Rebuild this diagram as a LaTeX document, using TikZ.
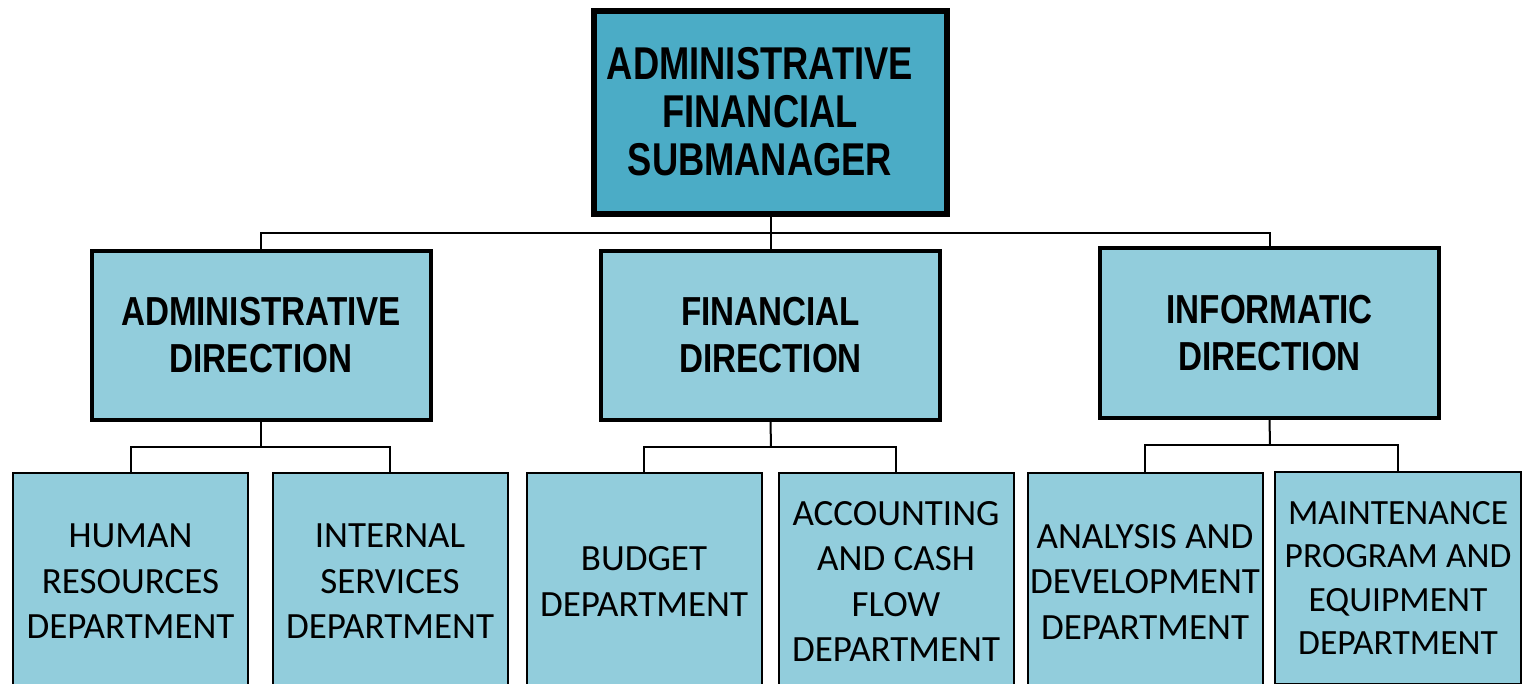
\documentclass[tikz,border=0pt]{standalone}
\usepackage{fontspec}
\newfontfamily\hdfont{Liberation Sans}[FakeStretch=0.79]
\newfontfamily\mdfont{Liberation Sans}[FakeStretch=0.82]
\newfontfamily\dpfont{Carlito}
\definecolor{topfill}{HTML}{4BACC6}
\definecolor{boxfill}{HTML}{92CDDC}
\begin{document}
\begin{tikzpicture}[x=1pt,y=-1pt,
  topbox/.style={draw=black,line width=6pt,fill=topfill,inner sep=0pt,minimum width=353pt,minimum height=203pt},
  midbox/.style={draw=black,line width=4pt,fill=boxfill,inner sep=0pt,minimum width=339pt,minimum height=169pt,
     align=center,font=\mdfont\bfseries\fontsize{40.5}{47}\selectfont},
  depbox/.style={draw=black,line width=2pt,fill=boxfill,inner sep=0pt,minimum width=235pt,minimum height=217pt,
     align=center,font=\dpfont\fontsize{37}{45.5}\selectfont},
  toptext/.style={align=center,inner sep=0pt,font=\hdfont\bfseries\fontsize{46}{48}\selectfont},
  link/.style={draw=black,line width=2pt}]
\useasboundingbox (0,0) rectangle (1522,684);
\fill[white] (0,0) rectangle (1522,684);
% top
\node[topbox] (top) at (770.5,112.5) {};
\node[toptext] (toptxt) at (760,112) {ADMINISTRATIVE\\FINANCIAL\\SUBMANAGER};
% directions
\node[midbox] (adm) at (261,335.5) {ADMINISTRATIVE\\DIRECTION};
\node[midbox] (fin) at (770.5,335.5) {FINANCIAL\\DIRECTION};
\node[midbox] (inf) at (1269.5,333) {INFORMATIC\\DIRECTION};
% departments
\node[depbox] (hr) at (130.5,581.5) {HUMAN\\RESOURCES\\DEPARTMENT};
\node[depbox] (isd) at (390,581.5) {INTERNAL\\SERVICES\\DEPARTMENT};
\node[depbox] (bud) at (644,581.5) {BUDGET\\DEPARTMENT};
\node[depbox] (acc) at (896,581.5) {ACCOUNTING\\AND CASH\\FLOW\\DEPARTMENT};
\node[depbox] (ana) at (1145,581.5) {ANALYSIS AND\\DEVELOPMENT\\DEPARTMENT};
\node[depbox,minimum width=246pt,minimum height=212pt,font=\dpfont\fontsize{35.5}{43.5}\selectfont] (mnt) at (1398,578) {MAINTENANCE\\PROGRAM AND\\EQUIPMENT\\DEPARTMENT};
% junctions
\coordinate (j0) at (771,233);
\coordinate (ja) at (261,447);
\coordinate (jf) at (771,447);
\coordinate (ji) at (1270,445);
% connectors
\draw[link] (top.south) -- (fin.north);
\draw[link] (adm.north) |- (j0) -| (inf.north);
\draw[link] (adm.south) -- (ja);
\draw[link] (hr.north) |- (ja) -| (isd.north);
\draw[link] (fin.south) -- (jf);
\draw[link] (bud.north) |- (jf) -| (acc.north);
\draw[link] (inf.south) -- (ji);
\draw[link] (ana.north) |- (ji) -| (mnt.north);
\end{tikzpicture}
\end{document}
